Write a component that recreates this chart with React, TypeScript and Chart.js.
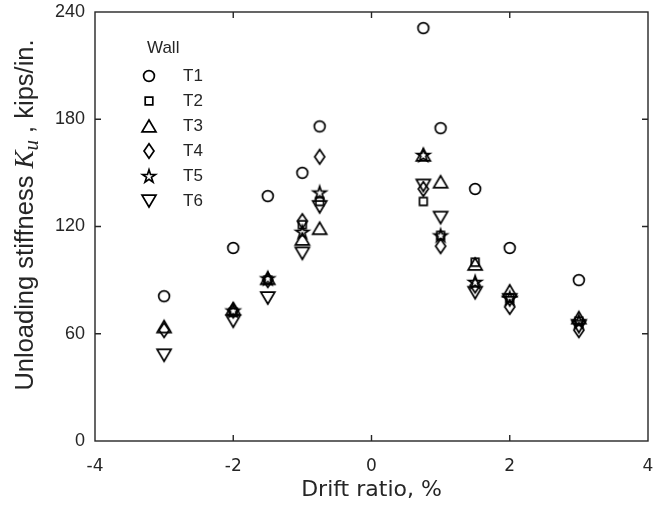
import React, { useEffect, useRef } from 'react';
import { Chart, registerables } from 'chart.js';

Chart.register(...registerables);

// ---- data ----
const driftRatio = [-3, -2, -1.5, -1, -0.75, 0.75, 1, 1.5, 2, 3];
const wallNames = ['T1', 'T2', 'T3', 'T4', 'T5', 'T6'];
const t1 = [81, 108, 137, 150, 176, 231, 175, 141, 108, 90];
const t2 = [null, 72, 90, 121, 134, 134, 115, 100, 80, 67];
const t3 = [64, 74, 91, 113, 119, 160, 145, 99, 84, 69];
const t4 = [62, 73, 90, 123, 159, 141, 109, 87, 75, 62];
const t5 = [null, 73, 91, 117, 139, 160, 115, 89, 80, 67];
const t6 = [48, 67, 80, 105, 131, 143, 125, 83, 79, 64];
const xTickValues = [-4, -2, 0, 2, 4];
const yTickValues = [0, 60, 120, 180, 240];
const markerKinds = ['circle', 'square', 'up', 'diamond', 'star', 'down'];

const AXIS_COLOR = '#262626';

function makeMarker(kind: string): HTMLCanvasElement {
  const s = 24;
  const c = document.createElement('canvas');
  c.width = s;
  c.height = s;
  const g = c.getContext('2d') as CanvasRenderingContext2D;
  g.strokeStyle = '#000';
  g.lineWidth = 1.7;
  g.lineJoin = 'miter';
  const m = s / 2;
  g.beginPath();
  if (kind === 'circle') {
    g.arc(m, m, 5.4, 0, Math.PI * 2);
  } else if (kind === 'square') {
    g.rect(m - 3.8, m - 3.8, 7.6, 7.6);
  } else if (kind === 'up') {
    g.moveTo(m, m - 6);
    g.lineTo(m + 7, m + 5.8);
    g.lineTo(m - 7, m + 5.8);
    g.closePath();
  } else if (kind === 'down') {
    g.moveTo(m, m + 6);
    g.lineTo(m + 7, m - 5.8);
    g.lineTo(m - 7, m - 5.8);
    g.closePath();
  } else if (kind === 'diamond') {
    g.moveTo(m, m - 7.3);
    g.lineTo(m + 5, m);
    g.lineTo(m, m + 7.3);
    g.lineTo(m - 5, m);
    g.closePath();
  } else if (kind === 'star') {
    const R = 6.8;
    const r = R * 0.382;
    for (let i = 0; i < 10; i++) {
      const a = -Math.PI / 2 + (i * Math.PI) / 5;
      const rr = i % 2 === 0 ? R : r;
      const px = m + rr * Math.cos(a);
      const py = m + 0.6 + rr * Math.sin(a);
      if (i === 0) g.moveTo(px, py);
      else g.lineTo(px, py);
    }
    g.closePath();
  }
  g.stroke();
  return c;
}

export default function App() {
  const canvasRef = useRef<HTMLCanvasElement | null>(null);

  useEffect(() => {
    const canvas = canvasRef.current;
    if (!canvas) return;
    const markers = markerKinds.map((k) => makeMarker(k));
    const series = [t1, t2, t3, t4, t5, t6];

    const datasets = series.map((vals, i) => ({
      label: wallNames[i],
      data: driftRatio
        .map((x, j) => ({ x, y: vals[j] }))
        .filter((p) => p.y !== null) as { x: number; y: number }[],
      pointStyle: markers[i],
      pointRadius: 7,
      showLine: false,
      borderColor: '#000',
      backgroundColor: 'transparent',
    }));

    const framePlugin = {
      id: 'frame',
      afterDraw(chart: any) {
        const { ctx, chartArea } = chart;
        const { left, right, top, bottom } = chartArea;
        const xs = chart.scales.x;
        const ys = chart.scales.y;
        ctx.save();
        ctx.strokeStyle = AXIS_COLOR;
        ctx.lineWidth = 1.4;
        ctx.strokeRect(left, top, right - left, bottom - top);
        ctx.beginPath();
        const tl = 6;
        xTickValues.slice(1, -1).forEach((v) => {
          const px = xs.getPixelForValue(v);
          ctx.moveTo(px, bottom);
          ctx.lineTo(px, bottom - tl);
          ctx.moveTo(px, top);
          ctx.lineTo(px, top + tl);
        });
        yTickValues.slice(1, -1).forEach((v) => {
          const py = ys.getPixelForValue(v);
          ctx.moveTo(left, py);
          ctx.lineTo(left + tl, py);
          ctx.moveTo(right, py);
          ctx.lineTo(right - tl, py);
        });
        ctx.stroke();

        // y-axis title with math K_u
        ctx.fillStyle = AXIS_COLOR;
        ctx.textBaseline = 'alphabetic';
        ctx.textAlign = 'left';
        const segs: [string, string, number][] = [
          ['Unloading stiffness ', '25.5px "Liberation Sans"', 0],
          ['K', 'italic 27px "Liberation Serif"', 0],
          ['u', 'italic 21px "Liberation Serif"', 5],
          [' , kips/in.', '25.5px "Liberation Sans"', 0],
        ];
        let total = 0;
        const widths = segs.map(([t, f]) => {
          ctx.font = f;
          const w = ctx.measureText(t).width;
          total += w;
          return w;
        });
        ctx.translate(33, 215);
        ctx.rotate(-Math.PI / 2);
        let cx = -total / 2;
        segs.forEach(([t, f, dy], i) => {
          ctx.font = f;
          ctx.fillText(t, cx, dy);
          cx += widths[i];
        });
        ctx.restore();

        // legend
        ctx.save();
        ctx.fillStyle = AXIS_COLOR;
        ctx.font = '17px "Liberation Sans"';
        ctx.textBaseline = 'middle';
        ctx.textAlign = 'left';
        ctx.fillText('Wall', 147, 48);
        wallNames.forEach((name, i) => {
          const y = 76 + i * 25;
          const mk = markers[i];
          ctx.drawImage(mk, 149 - mk.width / 2, y - mk.height / 2);
          ctx.fillText(name, 183, y);
        });
        ctx.restore();
      },
    };

    const chart = new Chart(canvas, {
      type: 'scatter',
      data: { datasets },
      options: {
        responsive: false,
        animation: false,
        layout: { padding: { left: 0, right: 16, top: 12, bottom: 0 } },
        plugins: {
          legend: { display: false },
          tooltip: { enabled: false },
        },
        scales: {
          x: {
            type: 'linear',
            min: -4,
            max: 4,
            afterBuildTicks: (scale: any) => {
              scale.ticks = xTickValues.map((v) => ({ value: v }));
            },
            ticks: {
              font: { family: 'DejaVu Sans', size: 17 },
              color: AXIS_COLOR,
              padding: 15,
            },
            grid: { display: false, drawTicks: false },
            border: { display: false },
            title: {
              display: true,
              text: 'Drift ratio, %',
              font: { family: 'DejaVu Sans', size: 22 },
              color: AXIS_COLOR,
              padding: { top: 0, bottom: 3 },
            },
            afterFit: (scale: any) => {
              scale.height = 65;
              scale.paddingLeft = 0;
              scale.paddingRight = 0;
            },
          },
          y: {
            type: 'linear',
            min: 0,
            max: 240,
            afterBuildTicks: (scale: any) => {
              scale.ticks = yTickValues.map((v) => ({ value: v }));
            },
            ticks: {
              font: { family: 'Liberation Sans', size: 18 },
              color: AXIS_COLOR,
              padding: 10,
            },
            grid: { display: false, drawTicks: false },
            border: { display: false },
            afterFit: (scale: any) => {
              scale.width = 95;
              scale.paddingTop = 0;
              scale.paddingBottom = 0;
            },
          },
        },
      },
      plugins: [framePlugin],
    });

    return () => {
      chart.destroy();
    };
  }, []);

  return (
    <div style={{ position: 'fixed', left: 0, top: 0, width: 664, height: 506, background: '#fff' }}>
      <canvas ref={canvasRef} width={664} height={506} style={{ display: 'block' }} />
    </div>
  );
}
